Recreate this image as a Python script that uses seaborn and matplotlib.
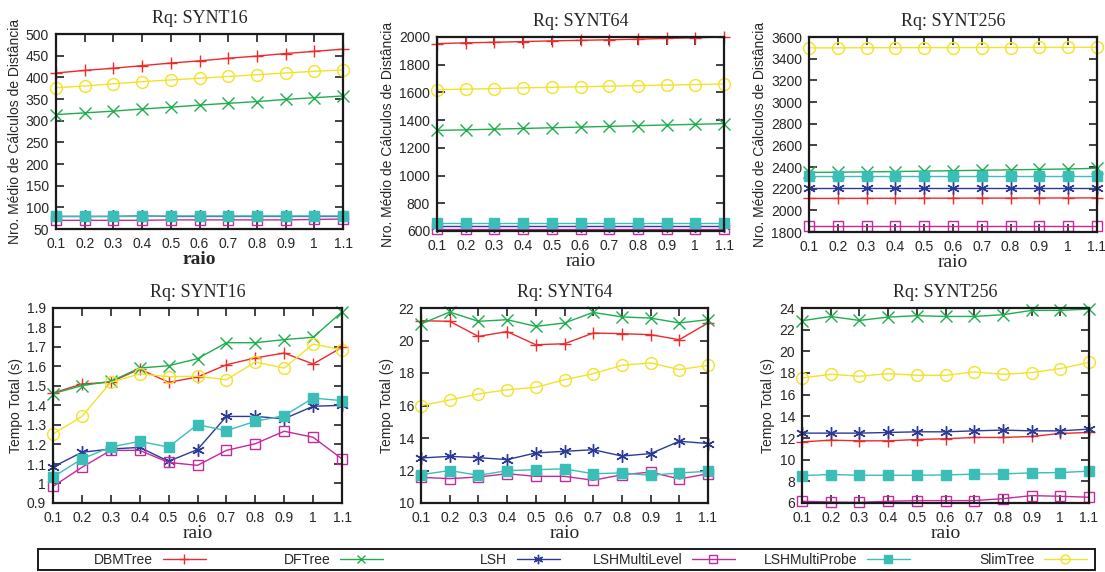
import matplotlib
matplotlib.use("Agg")
import matplotlib.pyplot as plt
from matplotlib.patches import Rectangle
import seaborn as sns
import numpy as np
import pandas as pd

# ---------------- data ----------------
raio = [0.1, 0.2, 0.3, 0.4, 0.5, 0.6, 0.7, 0.8, 0.9, 1.0, 1.1]
xtick_labels = ["0.1", "0.2", "0.3", "0.4", "0.5", "0.6", "0.7", "0.8", "0.9", "1", "1.1"]
series_names = ["DBMTree", "DFTree", "LSH", "LSHMultiLevel", "LSHMultiProbe", "SlimTree"]
datasets = ["SYNT16", "SYNT64", "SYNT256"]

# Nro. medio de calculos de distancia
dist16_dbm = [410, 416, 421, 427, 433, 438, 444, 449, 455, 460, 465]
dist16_df = [314, 318, 322, 327, 331, 336, 340, 344, 349, 353, 357]
dist16_lsh = [79, 79, 79, 80, 79, 79, 79, 79, 79, 79, 79]
dist16_mlevel = [70, 70, 70, 70, 71, 71, 71, 71, 71, 72, 73]
dist16_mprobe = [79, 79, 79, 79, 80, 80, 80, 80, 80, 80, 80]
dist16_slim = [376, 380, 385, 390, 394, 398, 402, 406, 410, 414, 417]

dist64_dbm = [1952, 1958, 1962, 1967, 1972, 1976, 1980, 1984, 1990, 1994, 2000]
dist64_df = [1326, 1330, 1335, 1340, 1345, 1350, 1355, 1360, 1365, 1370, 1375]
dist64_lsh = [635, 635, 635, 635, 635, 635, 635, 635, 635, 635, 635]
dist64_mlevel = [618, 618, 618, 618, 618, 618, 618, 618, 618, 618, 618]
dist64_mprobe = [655, 655, 655, 655, 655, 655, 655, 655, 655, 655, 655]
dist64_slim = [1620, 1624, 1628, 1633, 1637, 1641, 1645, 1649, 1653, 1657, 1661]

dist256_dbm = [2110, 2110, 2111, 2111, 2112, 2112, 2113, 2113, 2114, 2114, 2115]
dist256_df = [2350, 2352, 2355, 2358, 2362, 2366, 2370, 2374, 2378, 2382, 2388]
dist256_lsh = [2205, 2205, 2205, 2205, 2205, 2205, 2205, 2205, 2205, 2205, 2205]
dist256_mlevel = [1855, 1855, 1855, 1855, 1855, 1855, 1855, 1855, 1855, 1855, 1855]
dist256_mprobe = [2315, 2315, 2315, 2315, 2315, 2315, 2315, 2315, 2315, 2315, 2315]
dist256_slim = [3500, 3500, 3501, 3501, 3502, 3502, 3503, 3503, 3504, 3504, 3505]

# Tempo total (s)
tempo16_dbm = [1.464, 1.51, 1.52, 1.587, 1.519, 1.546, 1.609, 1.644, 1.669, 1.613, 1.698]
tempo16_df = [1.461, 1.502, 1.524, 1.592, 1.604, 1.640, 1.722, 1.722, 1.738, 1.750, 1.880]
tempo16_lsh = [1.085, 1.160, 1.177, 1.185, 1.114, 1.174, 1.344, 1.344, 1.332, 1.396, 1.401]
tempo16_mlevel = [0.985, 1.083, 1.170, 1.170, 1.108, 1.093, 1.170, 1.204, 1.268, 1.237, 1.126]
tempo16_mprobe = [1.033, 1.126, 1.187, 1.216, 1.187, 1.302, 1.271, 1.319, 1.348, 1.438, 1.425]
tempo16_slim = [1.254, 1.344, 1.519, 1.562, 1.548, 1.550, 1.532, 1.623, 1.592, 1.715, 1.686]

tempo64_dbm = [21.22, 21.18, 20.25, 20.55, 19.74, 19.80, 20.46, 20.42, 20.36, 20.05, 21.08]
tempo64_df = [21.02, 21.75, 21.18, 21.28, 20.87, 21.08, 21.73, 21.45, 21.38, 21.08, 21.28]
tempo64_lsh = [12.77, 12.87, 12.79, 12.67, 13.08, 13.18, 13.28, 12.89, 13.04, 13.80, 13.66]
tempo64_mlevel = [11.58, 11.50, 11.60, 11.80, 11.64, 11.64, 11.40, 11.74, 11.90, 11.48, 11.80]
tempo64_mprobe = [11.74, 12.00, 11.70, 11.99, 12.05, 12.10, 11.80, 11.85, 11.70, 11.85, 11.95]
tempo64_slim = [15.99, 16.34, 16.71, 16.97, 17.12, 17.59, 17.96, 18.47, 18.62, 18.21, 18.47]

tempo256_dbm = [11.64, 11.80, 11.74, 11.74, 11.86, 11.93, 12.05, 12.05, 12.14, 12.42, 12.51]
tempo256_df = [22.82, 23.22, 22.85, 23.16, 23.29, 23.22, 23.22, 23.38, 23.78, 23.78, 23.90]
tempo256_lsh = [12.45, 12.45, 12.45, 12.51, 12.57, 12.57, 12.66, 12.73, 12.66, 12.66, 12.82]
tempo256_mlevel = [6.16, 6.09, 6.06, 6.16, 6.22, 6.22, 6.22, 6.40, 6.68, 6.62, 6.53]
tempo256_mprobe = [8.53, 8.63, 8.56, 8.56, 8.56, 8.59, 8.66, 8.69, 8.78, 8.81, 8.94]
tempo256_slim = [17.54, 17.88, 17.70, 17.94, 17.79, 17.79, 18.10, 17.88, 18.04, 18.41, 18.97]

dist_panels = [
    [dist16_dbm, dist16_df, dist16_lsh, dist16_mlevel, dist16_mprobe, dist16_slim],
    [dist64_dbm, dist64_df, dist64_lsh, dist64_mlevel, dist64_mprobe, dist64_slim],
    [dist256_dbm, dist256_df, dist256_lsh, dist256_mlevel, dist256_mprobe, dist256_slim],
]
tempo_panels = [
    [tempo16_dbm, tempo16_df, tempo16_lsh, tempo16_mlevel, tempo16_mprobe, tempo16_slim],
    [tempo64_dbm, tempo64_df, tempo64_lsh, tempo64_mlevel, tempo64_mprobe, tempo64_slim],
    [tempo256_dbm, tempo256_df, tempo256_lsh, tempo256_mlevel, tempo256_mprobe, tempo256_slim],
]

dist_ylims = [(50, 500), (600, 2000), (1800, 3600)]
dist_yticks = [np.arange(50, 501, 50), np.arange(600, 2001, 200), np.arange(1800, 3601, 200)]
tempo_ylims = [(0.9, 1.9), (10, 22), (6, 24)]
tempo_yticks = [np.round(np.arange(0.9, 1.91, 0.1), 1), np.arange(10, 23, 2), np.arange(6, 25, 2)]
tempo_ytick_labels = [["0.9", "1", "1.1", "1.2", "1.3", "1.4", "1.5", "1.6", "1.7", "1.8", "1.9"], None, None]

# ---------------- styles ----------------
colors = ["#ee2a2a", "#1fae4e", "#2b3a96", "#c42a9a", "#3bbdb8", "#f2e22a"]
markers = ["+", "x", (6, 2, 0), "s", "s", "o"]
msizes = [9, 8, 9, 7.5, 7.5, 8.5]
filled = [False, False, False, False, True, False]

sns.set_style("ticks")
plt.rcParams["font.family"] = ["Liberation Sans", "DejaVu Sans"]
plt.rcParams["xtick.direction"] = "in"
plt.rcParams["ytick.direction"] = "in"

W, H = 1105, 572
fig = plt.figure(figsize=(W / 100, H / 100), dpi=100)

# pixel boxes: left, top, right, bottom
boxes_top = [(56, 34, 343, 229), (437, 37, 724, 231), (809, 37, 1097, 232)]
boxes_bot = [(53, 308, 342, 503), (421, 308, 708, 503), (802, 308, 1089, 503)]

serif = ["Liberation Serif", "DejaVu Serif"]


def make_ax(box):
    l, t, r, b = box
    return fig.add_axes([l / W, 1 - b / H, (r - l) / W, (b - t) / H])


def draw_panel(ax, panel, ylim, yticks, ylabels, title, ylabel, bold_x):
    for i, vals in enumerate(panel):
        sns.lineplot(
            x=raio, y=vals, ax=ax, color=colors[i], marker=markers[i],
            markersize=msizes[i], markeredgecolor=colors[i],
            markerfacecolor=colors[i] if filled[i] else "none",
            markeredgewidth=1.0, linewidth=1.0, label=series_names[i],
            legend=False, clip_on=False, zorder=3 + i,
        )
    ax.set_xlim(0.1, 1.1)
    ax.set_ylim(*ylim)
    ax.set_xticks(raio)
    ax.set_xticklabels(xtick_labels)
    ax.set_yticks(yticks)
    if ylabels is not None:
        ax.set_yticklabels(ylabels)
    ax.tick_params(axis="both", which="both", direction="in", top=True, right=True,
                   length=6, width=1.2, labelsize=10, color="#222222")
    ax.tick_params(axis="x", pad=6)
    ax.tick_params(axis="y", pad=5)
    for s in ax.spines.values():
        s.set_linewidth(1.6)
        s.set_color("#1a1a1a")
        s.set_zorder(10)
    ax.set_title(title, fontsize=13, family=serif, pad=8)
    ax.set_xlabel("raio", fontsize=14, family=serif,
                  fontweight="bold" if bold_x else "normal", labelpad=0)
    ax.set_ylabel(ylabel, fontsize=10, labelpad=3)


top_axes = []
for k in range(3):
    ax = make_ax(boxes_top[k])
    draw_panel(ax, dist_panels[k], dist_ylims[k], dist_yticks[k], None,
               "Rq: " + datasets[k], "Nro. Médio de Cálculos de Distância", k == 0)
    top_axes.append(ax)

for k in range(3):
    ax = make_ax(boxes_bot[k])
    draw_panel(ax, tempo_panels[k], tempo_ylims[k], tempo_yticks[k], tempo_ytick_labels[k],
               "Rq: " + datasets[k], "Tempo Total (s)", False)

# legend: gnuplot-style equal-width columns, text right-aligned against its sample
handles = top_axes[0].get_lines()[:6]
entry_right_px = [206, 383, 560, 735, 910, 1087]
for h, name, xr in zip(handles, series_names, entry_right_px):
    fig.legend([h], [name], loc="center right",
               bbox_to_anchor=(xr / W, 1 - 560 / H), frameon=False,
               markerfirst=False, fontsize=10, handlelength=3.1, markerscale=0.75,
               borderpad=0, borderaxespad=0, handletextpad=0.7)
frame = Rectangle((38 / W, 1 - 570 / H), (1095 - 38) / W, 21 / H,
                  transform=fig.transFigure, fill=False, edgecolor="#1a1a1a",
                  linewidth=1.4)
fig.add_artist(frame)

fig.savefig("out.png", dpi=100)
